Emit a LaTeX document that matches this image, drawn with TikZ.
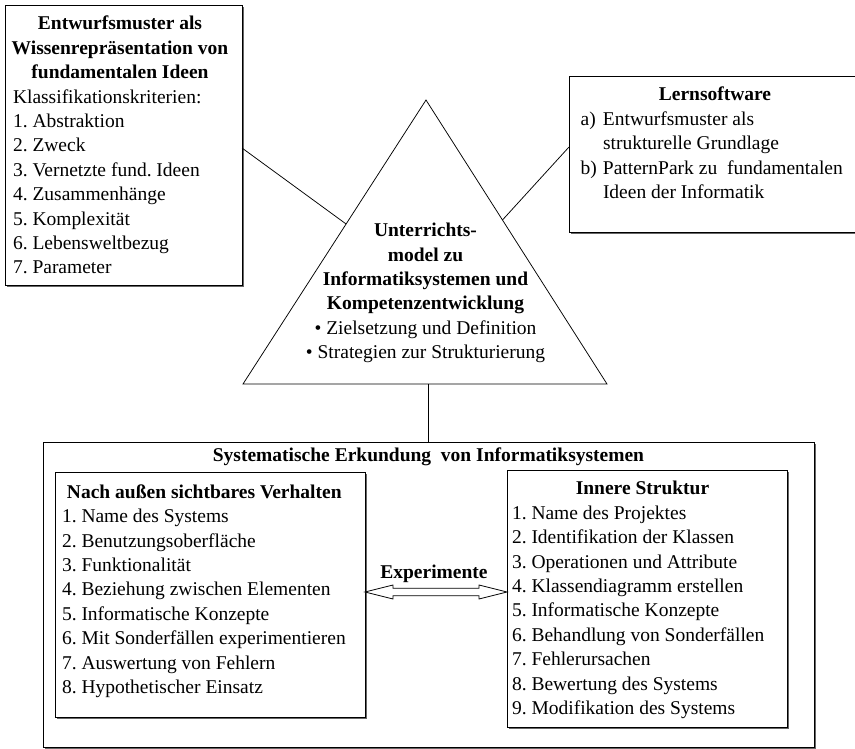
\documentclass[tikz,border=0pt]{standalone}
\usepackage{fontspec}
\setmainfont{Liberation Serif}
\usetikzlibrary{calc,shadows}
\frenchspacing
\begin{document}
\begin{tikzpicture}[x=1pt,y=-1pt,
  box/.style={draw, line width=0.8pt, fill=white, inner sep=0pt, outer sep=0pt,
    anchor=north west,
    drop shadow={shadow xshift=1.5pt, shadow yshift=-1.5pt, fill=black!60, opacity=1}},
  txt/.style={inner sep=0pt, outer sep=0pt, font=\fontsize{19.5}{24.4}\selectfont},
  txtb/.style={txt, font=\fontsize{19.5}{24.4}\selectfont\bfseries},
  link/.style={line width=0.75pt},
]
\useasboundingbox (0,0) rectangle (855,748);

% frames
\node[box, minimum width=237, minimum height=280] (ideen) at (5,5) {};
\node[box, minimum width=291, minimum height=156] (lern) at (569,76) {};
\node[box, minimum width=771, minimum height=305] (erk) at (43,442) {};
\node[box, minimum width=310, minimum height=245] (aussen) at (55,472) {};
\node[box, minimum width=280, minimum height=257] (innen) at (507,470) {};

% central triangle
\coordinate (apex) at (426,100);
\coordinate (bl) at (243,384);
\coordinate (br) at (607,384);
\draw[link] (apex) -- (bl) -- (br) -- cycle;

% connectors
\draw[link] ([yshift=-3pt]ideen.east) -- ($(apex)!0.4366!(bl)$);
\draw[link] ($(apex)!0.4225!(br)$) -- ([yshift=7pt]lern.west);
\draw[link] (erk.north) -- (erk.north |- bl);

% hollow double arrow between the two inner frames
\coordinate (row) at (0,592);
\coordinate (al) at (aussen.east |- row);
\coordinate (ar) at (innen.west |- row);
\draw[link, line join=miter, fill=white]
  (al) -- ($(al)+(28,-7)$) -- ($(al)+(28,-3.8)$) -- ($(ar)+(-28,-3.8)$)
  -- ($(ar)+(-28,-7)$) -- (ar) -- ($(ar)+(-28,7)$) -- ($(ar)+(-28,3.8)$)
  -- ($(al)+(28,3.8)$) -- ($(al)+(28,7)$) -- cycle;
\node[txtb, anchor=base] (exp) at (434,578) {Experimente};

% texts: upper left
\node[txtb, anchor=north, align=center] (ideentitel) at (120,12.9)
  {\strut Entwurfsmuster als\\Wissenrepräsentation von\\fundamentalen Ideen};
\node[txt, anchor=north west, align=left] (ideenliste) at (13,86.1)
  {\strut Klassifikationskriterien:\\1. Abstraktion\\2. Zweck\\3. Vernetzte fund. Ideen\\
   4. Zusammenhänge\\5. Komplexität\\6. Lebensweltbezug\\7. Parameter};

% texts: upper right
\node[txtb, anchor=north] (lerntitel) at (715,83.9) {\strut Lernsoftware};
\node[txt, anchor=north west, align=left] (lernliste) at (580.7,108.3)
  {\strut\makebox[22.3pt][l]{a)}Entwurfsmuster als\\\hspace*{22.3pt}strukturelle Grundlage\\
   \makebox[22.3pt][l]{b)}PatternPark zu~ fundamentalen\\\hspace*{22.3pt}Ideen der Informatik};

% texts: triangle
\node[txt, anchor=north, align=center] (modell) at (425.5,219.6)
  {\strut\textbf{Unterrichts-}\\\textbf{model zu}\\\textbf{Informatiksystemen und}\\
   \textbf{Kompetenzentwicklung}\\• Zielsetzung und Definition\\• Strategien zur Strukturierung};

% texts: lower frame
\node[txtb, anchor=north] (erktitel) at (428.5,444.9)
  {\strut Systematische Erkundung~ von Informatiksystemen};
\node[txt, anchor=north west, align=left] (aussenliste) at (62,481.2)
  {\strut\hspace*{5pt}\textbf{Nach außen sichtbares Verhalten}\\1. Name des Systems\\
   2. Benutzungsoberfläche\\3. Funktionalität\\4. Beziehung zwischen Elementen\\
   5. Informatische Konzepte\\6. Mit Sonderfällen experimentieren\\
   7. Auswertung von Fehlern\\8. Hypothetischer Einsatz};
\node[txtb, anchor=north] (innentitel) at (642.5,477.9) {\strut Innere Struktur};
\node[txt, anchor=north west, align=left] (innenliste) at (512,502.3)
  {\strut 1. Name des Projektes\\2. Identifikation der Klassen\\3. Operationen und Attribute\\
   4. Klassendiagramm erstellen\\5. Informatische Konzepte\\6. Behandlung von Sonderfällen\\
   7. Fehlerursachen\\8. Bewertung des Systems\\9. Modifikation des Systems};
\end{tikzpicture}
\end{document}
